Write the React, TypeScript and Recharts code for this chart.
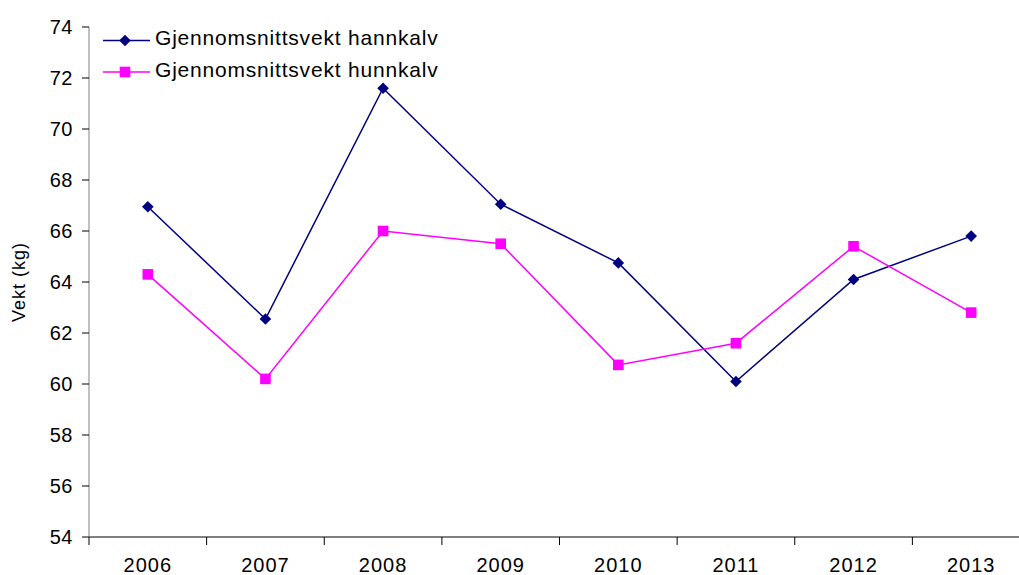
import React from "react";
import { LineChart, Line, XAxis, YAxis } from "recharts";

const years = ["2006", "2007", "2008", "2009", "2010", "2011", "2012", "2013"];
const hannkalv = [66.95, 62.55, 71.6, 67.05, 64.75, 60.1, 64.1, 65.8];
const hunnkalv = [64.3, 60.2, 66.0, 65.5, 60.75, 61.6, 65.4, 62.8];
const yTicks = [54, 56, 58, 60, 62, 64, 66, 68, 70, 72, 74];

const HANN = "#000080";
const HUNN = "#FF00FF";
const FONT = "'Liberation Sans', Arial, sans-serif";

const PLOT_W = 941;
const BAND = PLOT_W / years.length;
const X_TICK_MARGIN = 21;

const data = years.map((year, i) => ({
  year,
  hann: hannkalv[i],
  hunn: hunnkalv[i],
}));

const Diamond = (props: any) => {
  const { cx, cy } = props;
  if (cx == null || cy == null) return null;
  const r = 5.8;
  return <path d={`M${cx},${cy - r}L${cx + r},${cy}L${cx},${cy + r}L${cx - r},${cy}Z`} fill={HANN} />;
};

const Square = (props: any) => {
  const { cx, cy } = props;
  if (cx == null || cy == null) return null;
  const r = 5.3;
  return <rect x={cx - r} y={cy - r} width={r * 2} height={r * 2} fill={HUNN} />;
};

// category label centred in its band, tick marks on the band edges
const XTick = (props: any) => {
  const { x, y, payload, index } = props;
  const axisY = y - X_TICK_MARGIN;
  const last = index === years.length - 1;
  return (
    <g>
      <line x1={x - BAND / 2} y1={axisY} x2={x - BAND / 2} y2={axisY + 8} stroke="#000" />
      {last && <line x1={x + BAND / 2} y1={axisY} x2={x + BAND / 2} y2={axisY + 8} stroke="#000" />}
      <text x={x} y={y} dy="0.71em" textAnchor="middle" fontSize={20} letterSpacing={1} fill="#000" fontFamily={FONT}>
        {payload.value}
      </text>
    </g>
  );
};

const LegendBox = () => (
  <svg width={380} height={70} style={{ position: "absolute", left: 100, top: 27 }}>
    <line x1={3} y1={13.5} x2={50} y2={13.5} stroke={HANN} strokeWidth={1.5} />
    <Diamond cx={25} cy={13.5} />
    <text x={55} y={18} fontSize={21} letterSpacing={0.8} fill="#000" fontFamily={FONT}>
      Gjennomsnittsvekt hannkalv
    </text>
    <line x1={3} y1={45} x2={50} y2={45} stroke={HUNN} strokeWidth={1.5} />
    <Square cx={25} cy={45} />
    <text x={55} y={50} fontSize={21} letterSpacing={0.8} fill="#000" fontFamily={FONT}>
      Gjennomsnittsvekt hunnkalv
    </text>
  </svg>
);

export default function App() {
  return (
    <div style={{ position: "absolute", left: 0, top: 0, width: 1019, height: 575, background: "#fff", fontFamily: FONT, overflow: "hidden" }}>
      <LineChart width={1019} height={575} data={data} margin={{ top: 27, right: -11, bottom: 0, left: 0 }}>
        <XAxis
          dataKey="year"
          axisLine={{ stroke: "#000" }}
          tick={<XTick />}
          tickLine={false}
          tickSize={0}
          tickMargin={X_TICK_MARGIN}
          height={38}
          interval={0}
          padding={{ left: BAND / 2, right: BAND / 2 }}
        />
        <YAxis
          domain={[54, 74]}
          ticks={yTicks}
          stroke="#808080"
          tick={{ fill: "#000", fontSize: 20, letterSpacing: 0.5 }}
          tickLine={{ stroke: "#000" }}
          tickSize={7}
          tickMargin={9}
          width={89}
          interval={0}
          label={{ value: "Vekt (kg)", angle: -90, position: "insideLeft", offset: 19, style: { fill: "#000", fontSize: 18, letterSpacing: 1, textAnchor: "middle" } }}
        />
        <Line dataKey="hann" stroke={HANN} strokeWidth={1.5} dot={<Diamond />} activeDot={false} isAnimationActive={false} />
        <Line dataKey="hunn" stroke={HUNN} strokeWidth={1.5} dot={<Square />} activeDot={false} isAnimationActive={false} />
      </LineChart>
      <LegendBox />
    </div>
  );
}
